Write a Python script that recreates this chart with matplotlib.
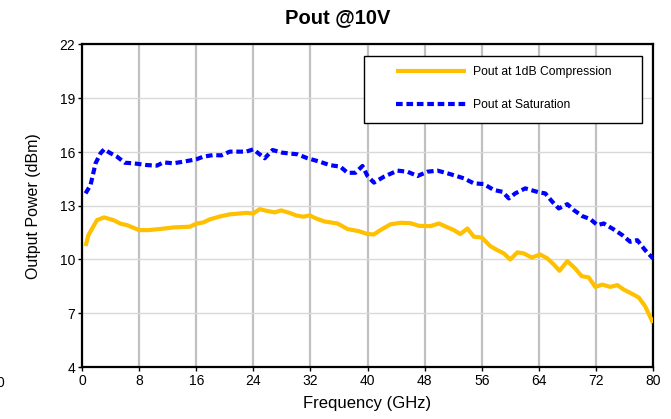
import matplotlib
matplotlib.use("Agg")
import matplotlib.pyplot as plt
from matplotlib.patches import Rectangle

plt.rcParams['font.family'] = ['Liberation Sans', 'DejaVu Sans']

title = "Pout @10V"
xlabel = "Frequency (GHz)"
ylabel = "Output Power (dBm)"
label_p1db = "Pout at 1dB Compression"
label_psat = "Pout at Saturation"
xticks = [0, 8, 16, 24, 32, 40, 48, 56, 64, 72, 80]
yticks = [4, 7, 10, 13, 16, 19, 22]

freq_p1db = [0.5, 0.9, 2.1, 3.1, 4.4, 5.4, 6.3, 8.0, 9.3, 10.9, 12.8, 15.1, 16.0, 17.0,
             17.9, 19.3, 20.7, 23.0, 24.0, 24.9, 25.8, 27.0, 27.9, 29.1, 30.0, 31.0,
             31.9, 32.8, 34.0, 35.8, 37.2, 38.8, 40.0, 40.9, 41.8, 43.2, 44.6, 46.0,
             47.2, 48.8, 50.0, 50.9, 52.1, 53.0, 54.0, 54.9, 56.0, 57.2, 58.2, 59.1,
             60.0, 61.0, 61.9, 63.0, 64.2, 65.2, 66.1, 66.9, 68.0, 69.1, 70.0, 71.0,
             71.9, 72.9, 74.0, 75.0, 75.9, 77.0, 78.0, 78.9, 80.0]
pout_p1db = [10.75, 11.36, 12.2, 12.35, 12.2, 12.0, 11.92, 11.64, 11.64, 11.7, 11.79, 11.83, 12.0, 12.07,
             12.24, 12.4, 12.52, 12.6, 12.57, 12.81, 12.72, 12.63, 12.74, 12.6, 12.46, 12.39,
             12.46, 12.29, 12.12, 12.01, 11.7, 11.58, 11.42, 11.4, 11.64, 11.96, 12.05, 12.03,
             11.88, 11.86, 12.01, 11.85, 11.64, 11.42, 11.73, 11.27, 11.23, 10.75, 10.52, 10.34,
             10.0, 10.4, 10.34, 10.11, 10.28, 10.06, 9.72, 9.37, 9.91, 9.5, 9.07, 9.0,
             8.47, 8.6, 8.47, 8.57, 8.32, 8.1, 7.88, 7.39, 6.46]

freq_psat = [0.5, 1.2, 1.9, 2.6, 3.1, 4.0, 4.9, 6.0, 7.2, 9.1, 10.5, 11.4, 12.8, 14.2, 16.0,
             17.0, 18.4, 19.5, 20.7, 23.0, 24.0, 25.6, 26.7, 28.1, 30.2, 31.6, 33.3, 34.7,
             36.2, 37.2, 38.3, 39.3, 40.0, 40.9, 42.3, 44.2, 45.6, 47.0, 48.4, 49.8, 51.2,
             52.3, 53.5, 54.9, 56.3, 57.7, 58.9, 59.8, 60.7, 62.1, 64.0, 64.9, 65.9, 66.8,
             68.0, 68.9, 70.1, 71.2, 72.2, 73.1, 74.5, 75.7, 76.8, 77.8, 78.9, 80.0]
pout_psat = [13.69, 14.16, 15.37, 15.93, 16.15, 15.93, 15.74, 15.4, 15.37, 15.27, 15.24, 15.42, 15.37, 15.46, 15.59,
             15.74, 15.83, 15.81, 16.02, 16.02, 16.15, 15.65, 16.11, 15.96, 15.87, 15.65, 15.46, 15.27,
             15.18, 14.84, 14.84, 15.22, 14.66, 14.29, 14.62, 14.96, 14.9, 14.66, 14.9, 14.96, 14.81,
             14.68, 14.53, 14.25, 14.21, 13.88, 13.78, 13.41, 13.69, 13.97, 13.75, 13.69, 13.22, 12.85,
             13.09, 12.76, 12.42, 12.26, 11.92, 12.01, 11.68, 11.36, 10.99, 11.08, 10.52, 10.06]

W, H = 671, 419
fig = plt.figure(figsize=(W / 100, H / 100), dpi=100)
L, R, T, B = 82, 653, 44.5, 367
ax = fig.add_axes([L / W, 1 - B / H, (R - L) / W, (B - T) / H])

ax.plot(freq_p1db, pout_p1db, color='#FFC000', lw=3.0, solid_joinstyle='round',
        solid_capstyle='butt', label=label_p1db, zorder=3)
ax.plot(freq_psat, pout_psat, color='#0000FF', lw=3.0, dashes=(1.6, 0.9),
        dash_capstyle='butt', label=label_psat, zorder=3)

ax.set_xlim(0, 80)
ax.set_ylim(4, 22)
ax.set_xticks(xticks)
ax.set_yticks(yticks)
ax.xaxis.grid(True, color='#c0c0c0', lw=1.6)
ax.yaxis.grid(True, color='#d9d9d9', lw=1.0)
ax.set_axisbelow(True)
for s in ax.spines.values():
    s.set_linewidth(1.6)
    s.set_color('black')
ax.tick_params(direction='out', length=3, width=1, labelsize=10, pad=2, colors='black')

ax.set_xlabel(xlabel, fontsize=12, labelpad=6)
ax.set_ylabel(ylabel, fontsize=11.5, labelpad=13)
fig.text(338 / W, 1 - 18 / H, title, fontsize=14.5, fontweight='bold', ha='center', va='center')
fig.text(0.0, 1 - 383 / H, "0", fontsize=10, ha='center', va='center')

# legend box
lx0, lx1, ly0, ly1 = 364, 642, 56, 123
frame = Rectangle(((lx0 - L) / (R - L), (B - ly1) / (B - T)), (lx1 - lx0) / (R - L), (ly1 - ly0) / (B - T),
                  transform=ax.transAxes, facecolor='white', edgecolor='black', lw=1.0, zorder=4)
ax.add_patch(frame)
leg = ax.legend(loc='upper left', bbox_to_anchor=((396 - L) / (R - L), (B - 66) / (B - T)),
                frameon=False, fontsize=8.7, handlelength=5.8, handletextpad=0.55,
                labelspacing=1.75, borderpad=0.0, borderaxespad=0.0)
leg.set_zorder(5)

fig.savefig("out.png", dpi=100)
